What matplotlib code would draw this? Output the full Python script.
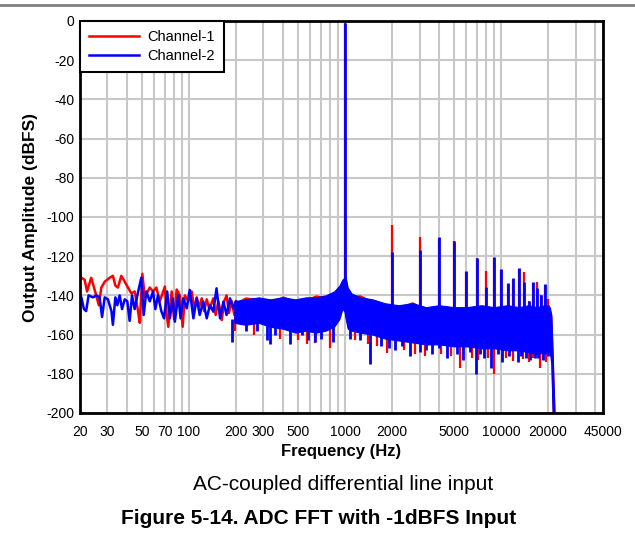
import numpy as np
import matplotlib
matplotlib.use("Agg")
import matplotlib.pyplot as plt
from matplotlib.lines import Line2D

plt.rcParams['font.family'] = ['Liberation Sans', 'DejaVu Sans']
plt.rcParams['axes.unicode_minus'] = False

# low frequency part of the traces (Hz, dBFS)
ch1_lf_f = [20, 20.4, 21.4, 22.2, 23.6, 24.8, 26.4, 27.4, 28.8, 31,
            32.5, 33.7, 35, 36.8, 38.7, 40.6, 42.7, 44.8, 47.1, 48.3,
            50.2, 52, 56, 58.8, 61.7, 64.9, 70, 71.9, 73.6, 77.4,
            80.1, 83.3, 87.3, 91, 94, 99, 104, 108, 112, 116,
            120.6, 125, 129.8, 135, 143, 148, 154, 158, 162, 168,
            174, 180, 188, 195, 202]
ch1_lf_db = [-130, -131, -132, -138, -131, -137, -145, -136, -133, -131,
             -130, -135, -136, -130, -133, -136, -139, -138, -148, -154,
             -129, -141, -136, -138, -136, -143, -135.5, -150, -156, -138,
             -152, -137, -140, -156, -140, -143, -138, -147, -141, -146,
             -141.5, -148, -142, -147, -141.5, -150, -143, -147, -152.6, -143,
             -140, -149, -143, -150, -144]

ch2_lf_f = [20, 20.4, 21.2, 21.9, 22.7, 24.2, 25.5, 26.7, 27.7, 28.8,
            30.2, 31.8, 32.5, 33.7, 34.7, 35.9, 37.2, 38.7, 40.2, 41.6,
            43.1, 44.8, 46.6, 49.4, 51.2, 53.2, 56, 58.8, 60.8, 63.2,
            66.4, 69.1, 72.4, 75.3, 78.6, 81.1, 85.3, 88.2, 91.7, 96.6,
            101, 106.6, 112, 117, 123.4, 129.8, 136, 143, 150, 158,
            166, 174, 183, 192, 200]
ch2_lf_db = [-140, -141, -147, -148, -140, -141, -140, -141, -151, -141,
             -142, -148, -155, -141, -145, -140, -147, -142, -143, -153,
             -140, -147, -140, -131, -150, -138, -143, -138, -147, -140,
             -148, -151.7, -138, -151.7, -141.5, -153.4, -139.8, -151.7, -141.5, -146.6,
             -137.2, -151.7, -141.5, -150, -143.2, -151.7, -144.9, -148.3, -136.4, -151.7,
             -143.2, -150, -141.5, -146.6, -143]

# dense noise floor above ~200 Hz: upper / lower edges
band_f = [195, 230, 280, 330, 400, 480, 560, 650, 750, 850,
          920, 960, 990, 1010, 1040, 1100, 1250, 1500, 1800, 2200,
          2700, 3300, 4000, 5000, 6000, 7500, 9000, 11000, 13000, 15000,
          17000, 19000, 20500, 21000, 21400, 22000]
ch1_top = [-144, -141, -142, -143, -140.5, -143, -142, -140, -141, -139,
           -136, -133, -132, -132, -137, -140, -140, -143, -145, -146,
           -143.5, -147, -146, -147, -147, -146, -147, -146, -147, -146,
           -147, -146, -147, -151, -171, -200]
ch1_bot = [-153, -154, -153, -155, -156, -158, -157, -158, -157, -155,
           -151, -146, -147, -151, -156, -157, -158, -159, -161, -162,
           -163, -164, -164, -165, -165, -166, -166, -167, -167, -168,
           -169, -168, -167, -174, -199, -200]
ch2_top = [-143, -142, -141, -142, -141, -142, -141, -141, -140, -138,
           -135, -132, -131, -131, -136, -139, -141, -142, -144, -145,
           -144, -146, -145, -146, -146, -145, -146, -145, -146, -145,
           -146, -145, -146, -150, -170, -200]
ch2_bot = [-154, -155, -154, -156, -157, -159, -158, -159, -158, -156,
           -152, -147, -148, -152, -157, -158, -159, -160, -162, -163,
           -164, -165, -165, -166, -166, -167, -167, -168, -168, -169,
           -170, -169, -168, -175, -200, -200]

# deepest downward spikes of the noise floor
ch1_dip_f = [198, 260, 380, 500, 567, 640, 806, 1150, 1400, 1600,
             1848, 2400, 2800, 3260, 4100, 4800, 5460, 6500, 7100, 8200,
             9040, 10700, 11860, 13880, 15000, 16000, 17770, 18700, 19500]
ch1_dip_db = [-158, -160, -162, -163, -165, -164.5, -167, -163, -165, -166,
              -169.5, -168, -170, -171, -170, -171, -177, -172, -173, -172,
              -180, -172, -173.4, -172.5, -174, -172, -177, -173, -174]
ch2_dip_f = [188, 232, 271, 315, 330, 355, 445, 530, 580, 640,
             700, 840, 1080, 1250, 1436, 1700, 1900, 2100, 2300, 2600,
             3000, 3300, 3600, 4000, 4480, 5200, 5740, 6300, 6920, 7300,
             7800, 8680, 9500, 10100, 11200, 12880, 13500, 14500, 15300, 16500,
             17200, 18500, 19200, 20000]
ch2_dip_db = [-164, -158, -158, -163, -165, -160, -165, -160, -163, -164,
              -162, -164, -162, -163, -175, -166, -167, -168, -166, -171,
              -169, -168, -170, -167, -172, -170, -173, -169, -180, -170,
              -172, -177, -170, -174, -171, -174, -171, -172, -173, -172,
              -172, -173, -170, -171]

# fundamental and harmonics
fund_f = 1000
fund_db = -1
harm_f = [2000, 3000, 4000, 5000, 6000, 7000, 8000, 9000, 10000, 11000,
          12000, 13000, 14000, 15000, 16000, 17000, 18000, 19000, 20000]
ch1_harm = [-104, -110, -111, -112, -128, -121, -127.6, -121, -127, -134,
            -132, -126.5, -128, -143, -133.5, -133, -140, -134.5, -142]
ch2_harm = [-118, -117, -110.4, -112, -127.6, -121, -135.5, -120.6, -126.4, -133.5,
            -131.3, -126.2, -133, -143, -133, -136, -140, -134, -145]

xticks = [20, 30, 50, 70, 100, 200, 300, 500, 1000, 2000, 5000, 10000, 20000, 45000]
xgrid_minor = [40, 60, 80, 90, 400, 600, 700, 800, 900, 3000, 4000,
               6000, 7000, 8000, 9000, 30000, 40000]

fig = plt.figure(figsize=(6.35, 5.35), dpi=100)
ax = fig.add_axes([80/635, 1-413/535, 523/635, 392/535])

channels = [
    ('Channel-1', '#ff0000', 1.6, ch1_lf_f, ch1_lf_db, ch1_top, ch1_bot, ch1_dip_f, ch1_dip_db, ch1_harm),
    ('Channel-2', '#0000ff', 2.0, ch2_lf_f, ch2_lf_db, ch2_top, ch2_bot, ch2_dip_f, ch2_dip_db, ch2_harm),
]
for name, col, w, lf_f, lf_db, top, bot, dip_f, dip_db, harm in channels:
    ax.plot(lf_f, lf_db, color=col, lw=1.8, label=name, zorder=3)
    ax.fill_between(band_f, bot, top, color=col, lw=0.8, edgecolor=col, zorder=3)
    ax.vlines(dip_f, dip_db, -152, color=col, lw=w, zorder=3)
    ax.vlines(harm_f, -146, harm, color=col, lw=w, zorder=3)
    ax.vlines([fund_f], -140, [fund_db], color=col, lw=w, zorder=3)

ax.set_xscale('log')
ax.set_xlim(20, 45000)
ax.set_ylim(-200, 0)
ax.set_xticks(xticks)
ax.set_xticklabels([str(t) for t in xticks])
ax.set_xticks(xgrid_minor, minor=True)
ax.set_xticklabels([], minor=True)
ax.set_yticks(range(-200, 1, 20))
ax.tick_params(which='both', length=0, labelsize=10)
ax.tick_params(axis='x', pad=9)
ax.tick_params(axis='y', pad=4)
ax.grid(which='both', color='#c8c8c8', lw=1.5, zorder=1)
ax.set_axisbelow(True)
for s in ax.spines.values():
    s.set_linewidth(2)
    s.set_color('black')
    s.set_zorder(5)

ax.set_xlabel('Frequency (Hz)', fontsize=12, fontweight='bold', labelpad=3)
ax.set_ylabel('Output Amplitude (dBFS)', fontsize=12.5, fontweight='bold', labelpad=6)

leg = ax.legend(loc='upper left', borderaxespad=0, fontsize=10.5, fancybox=False,
                framealpha=1, edgecolor='black', handlelength=3.4, handletextpad=0.55,
                borderpad=0.65, labelspacing=0.3)
leg.get_frame().set_linewidth(1.5)
leg.set_zorder(6)

fig.add_artist(Line2D([0, 1], [1-5/535, 1-5/535], color='#808080', lw=2))
fig.text(0.541, 1-485/535, 'AC-coupled differential line input', ha='center', va='center',
         fontsize=15)
fig.text(0.502, 1-519/535, 'Figure 5-14. ADC FFT with -1dBFS Input', ha='center', va='center',
         fontsize=15, fontweight='bold')

fig.savefig('out.png', dpi=100)
